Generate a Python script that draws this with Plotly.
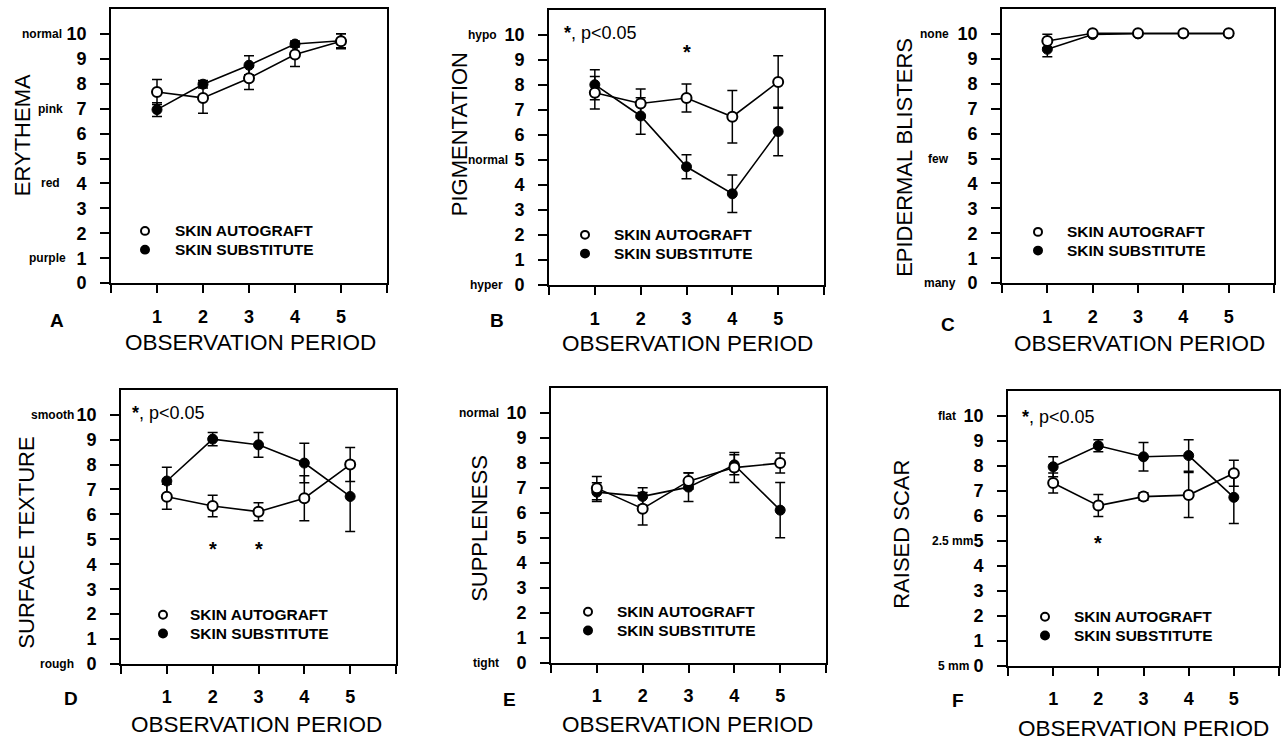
import plotly.graph_objects as go

W, H = 1284, 752
FONT = "Liberation Sans, Arial, sans-serif"

periods = [1, 2, 3, 4, 5]
x_tick_labels = ["", "<b>1</b>", "<b>2</b>", "<b>3</b>", "<b>4</b>", "<b>5</b>", ""]
y_ticks = list(range(0, 11))
y_tick_labels = ["<b>%d</b>" % v for v in y_ticks]

# A: Erythema
ery_auto = [7.67, 7.43, 8.22, 9.17, 9.70]
ery_auto_err = [0.50, 0.62, 0.45, 0.48, 0.30]
ery_sub = [6.96, 7.98, 8.74, 9.59, 9.72]
ery_sub_err = [0.28, 0.15, 0.38, 0.12, 0.28]
# B: Pigmentation
pig_auto = [7.69, 7.26, 7.48, 6.73, 8.12]
pig_auto_err = [0.65, 0.58, 0.56, 1.05, 1.05]
pig_sub = [8.01, 6.76, 4.73, 3.65, 6.14]
pig_sub_err = [0.60, 0.73, 0.48, 0.75, 0.97]
# C: Epidermal blisters
bli_auto = [9.71, 10.02, 10.02, 10.02, 10.02]
bli_auto_err = [0.27, 0, 0, 0, 0]
bli_sub = [9.38, 9.97, 10.0, 10.0, 10.0]
bli_sub_err = [0.30, 0, 0, 0, 0]
# D: Surface texture
tex_auto = [6.71, 6.34, 6.11, 6.65, 8.00]
tex_auto_err = [0.50, 0.43, 0.36, 0.90, 0.68]
tex_sub = [7.34, 9.02, 8.79, 8.06, 6.72]
tex_sub_err = [0.55, 0.27, 0.50, 0.79, 1.40]
# E: Suppleness
sup_auto = [6.99, 6.17, 7.27, 7.81, 7.99]
sup_auto_err = [0.46, 0.65, 0.32, 0.60, 0.40]
sup_sub = [6.83, 6.66, 7.03, 7.92, 6.11]
sup_sub_err = [0.37, 0.35, 0.57, 0.40, 1.10]
# F: Raised scar
scar_auto = [7.31, 6.41, 6.77, 6.83, 7.70]
scar_auto_err = [0.40, 0.44, 0.15, 0.90, 0.52]
scar_sub = [7.96, 8.80, 8.36, 8.41, 6.74]
scar_sub_err = [0.40, 0.24, 0.57, 0.63, 1.05]

series_names = ["SKIN AUTOGRAFT", "SKIN SUBSTITUTE"]

panels = [
    dict(letter="A", title="ERYTHEMA", auto=ery_auto, auto_err=ery_auto_err, sub=ery_sub, sub_err=ery_sub_err,
         desc=[("normal", 10), ("pink", 7), ("red", 4), ("purple", 1)], desc_r=[64, 65, 62, 68],
         stars=[], star_y=None, sig=False),
    dict(letter="B", title="PIGMENTATION", auto=pig_auto, auto_err=pig_auto_err, sub=pig_sub, sub_err=pig_sub_err,
         desc=[("hypo", 10), ("normal", 5), ("hyper", 0)], desc_r=[499, 510, 505],
         stars=[3], star_y=9.3, sig=True),
    dict(letter="C", title="EPIDERMAL BLISTERS", auto=bli_auto, auto_err=bli_auto_err, sub=bli_sub, sub_err=bli_sub_err,
         desc=[("none", 10), ("few", 5), ("many", 0)], desc_r=[951, 951, 958],
         stars=[], star_y=None, sig=False),
    dict(letter="D", title="SURFACE TEXTURE", auto=tex_auto, auto_err=tex_auto_err, sub=tex_sub, sub_err=tex_sub_err,
         desc=[("smooth", 10), ("rough", 0)], desc_r=[76, 76],
         stars=[2, 3], star_y=4.6, sig=True),
    dict(letter="E", title="SUPPLENESS", auto=sup_auto, auto_err=sup_auto_err, sub=sup_sub, sub_err=sup_sub_err,
         desc=[("normal", 10), ("tight", 0)], desc_r=[501, 501],
         stars=[], star_y=None, sig=False),
    dict(letter="F", title="RAISED SCAR", auto=scar_auto, auto_err=scar_auto_err, sub=scar_sub, sub_err=scar_sub_err,
         desc=[("flat", 10), ("2.5 mm", 5), ("5 mm", 0)], desc_r=[958, 975, 971],
         stars=[2], star_y=4.9, sig=True),
]

# layout geometry in pixels (left, right, top, bottom of plot box)
boxes = [(111, 387, 9, 287), (549, 824, 10, 289), (1002, 1274, 9, 287),
         (121, 396, 395, 673), (551, 826, 393, 672), (1008, 1279, 396, 675)]
letter_pos = [(57, 325), (497, 325), (948, 329), (71, 708), (509, 709), (958, 710)]
xtitle_pos = [(250, 347), (687, 348), (1139, 348), (256, 734), (687, 734), (1143, 738)]
ytitle_pos = [(22, 137), (459, 136), (905, 160), (27, 550), (480, 536), (902, 542)]
legend_pos = [(145, 173, 234, 253), (585, 612, 238, 257), (1038, 1065, 235, 254),
              (163, 188, 623, 642), (588, 615, 620, 639), (1045, 1072, 625, 644)]
sig_pos = [None, (562, 33), None, (130, 419), None, (1020, 423)]


def px(x):
    return x / W


def py(y):
    return 1 - y / H


fig = go.Figure()
annotations = []
shapes = []
layout_axes = {}

for i, p in enumerate(panels):
    n = "" if i == 0 else str(i + 1)
    xa, ya = "x" + n, "y" + n
    l, r, t, b = boxes[i]
    # substitute (filled) first, autograft on top
    fig.add_trace(go.Scatter(
        x=periods, y=p["sub"], xaxis=xa, yaxis=ya, mode="lines+markers", showlegend=False,
        name=series_names[1],
        line=dict(color="black", width=1.6),
        marker=dict(symbol="circle", size=10, color="black", line=dict(color="black", width=1)),
        error_y=dict(type="data", array=p["sub_err"], color="black", thickness=1.5, width=5),
    ))
    fig.add_trace(go.Scatter(
        x=periods, y=p["auto"], xaxis=xa, yaxis=ya, mode="lines+markers", showlegend=False,
        name=series_names[0],
        line=dict(color="black", width=1.6),
        marker=dict(symbol="circle", size=10, color="white", line=dict(color="black", width=2)),
        error_y=dict(type="data", array=p["auto_err"], color="black", thickness=1.5, width=5),
    ))
    common = dict(showline=True, linecolor="black", linewidth=1.6, mirror=True, showgrid=False,
                  zeroline=False, ticks="outside", tickcolor="black", tickwidth=1.6,
                  tickfont=dict(family=FONT, size=18, color="black"))
    layout_axes["xaxis" + n] = dict(common, domain=[px(l), px(r)], range=[0, 6], anchor=ya,
                                    tickvals=list(range(0, 7)), ticktext=x_tick_labels,
                                    ticklen=8, ticklabelstandoff=8)
    layout_axes["yaxis" + n] = dict(common, domain=[py(b), py(t)], range=[0, 11], anchor=xa,
                                    tickvals=y_ticks, ticktext=y_tick_labels,
                                    ticklen=9, ticklabelstandoff=10)

    # descriptor labels
    for (txt, val), rx in zip(p["desc"], p["desc_r"]):
        annotations.append(dict(text="<b>%s</b>" % txt, xref="paper", yref=ya, x=px(rx), y=val,
                                xanchor="right", yanchor="middle", showarrow=False,
                                font=dict(family=FONT, size=12, color="black")))
    # panel letter
    lx, ly = letter_pos[i]
    annotations.append(dict(text="<b>%s</b>" % p["letter"], xref="paper", yref="paper", x=px(lx), y=py(ly),
                            xanchor="center", yanchor="middle", showarrow=False,
                            font=dict(family=FONT, size=19, color="black")))
    # x title
    tx, ty = xtitle_pos[i]
    annotations.append(dict(text="OBSERVATION PERIOD", xref="paper", yref="paper", x=px(tx), y=py(ty),
                            xanchor="center", yanchor="middle", showarrow=False,
                            font=dict(family=FONT, size=22.5, color="black")))
    # y title
    yx, yy = ytitle_pos[i]
    annotations.append(dict(text=p["title"], xref="paper", yref="paper", x=px(yx), y=py(yy), textangle=-90,
                            xanchor="center", yanchor="middle", showarrow=False,
                            font=dict(family=FONT, size=22, color="black")))
    # legend
    mx, tx0, y1, y2 = legend_pos[i]
    rr = 4.0
    for yy_, fill, name in [(y1, "white", series_names[0]), (y2, "black", series_names[1])]:
        shapes.append(dict(type="circle", xref="paper", yref="paper",
                           x0=px(mx - rr), x1=px(mx + rr), y0=py(yy_ + rr), y1=py(yy_ - rr),
                           line=dict(color="black", width=2), fillcolor=fill))
        annotations.append(dict(text="<b>%s</b>" % name, xref="paper", yref="paper", x=px(tx0), y=py(yy_),
                                xanchor="left", yanchor="middle", showarrow=False,
                                font=dict(family=FONT, size=15.5, color="black")))
    # significance
    if p["sig"]:
        sx, sy = sig_pos[i]
        annotations.append(dict(text="<b>*</b>, p<0.05", xref="paper", yref="paper", x=px(sx), y=py(sy),
                                xanchor="left", yanchor="middle", showarrow=False,
                                font=dict(family=FONT, size=18, color="black")))
    for s in p["stars"]:
        annotations.append(dict(text="<b>*</b>", xref=xa, yref=ya, x=s, y=p["star_y"], xanchor="center",
                                yanchor="middle", showarrow=False,
                                font=dict(family=FONT, size=20, color="black")))

fig.update_layout(
    width=W, height=H, autosize=False,
    margin=dict(l=0, r=0, t=0, b=0),
    paper_bgcolor="white", plot_bgcolor="white",
    font=dict(family=FONT, color="black"),
    annotations=annotations, shapes=shapes,
    **layout_axes,
)

fig.write_html("out.html", config={"displayModeBar": False},
               post_script="document.body.style.margin='0px';document.body.style.overflow='hidden';")
